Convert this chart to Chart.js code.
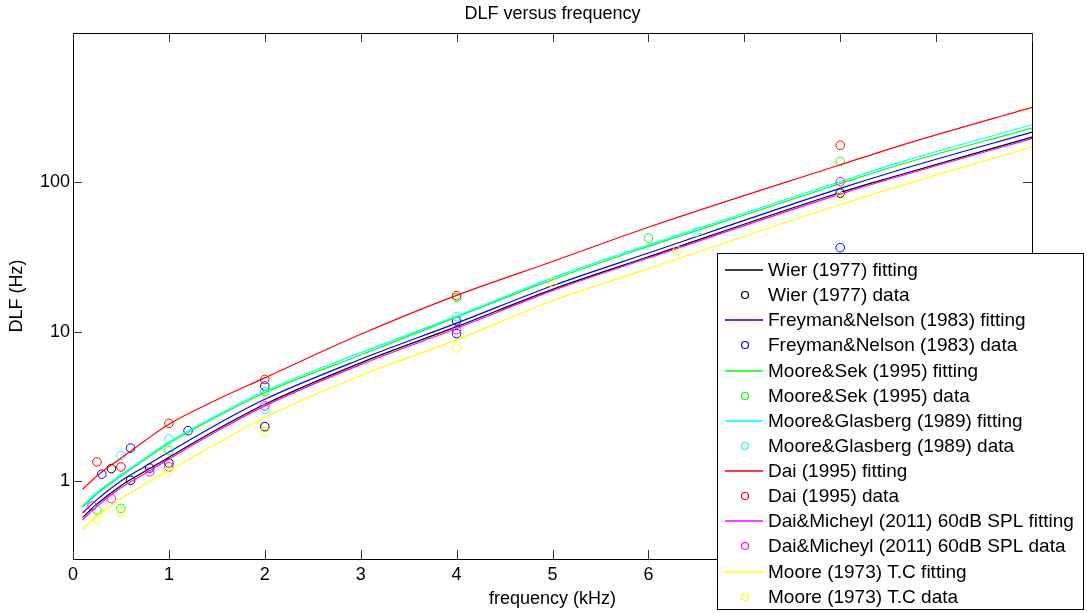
<!DOCTYPE html>
<html>
<head>
<meta charset="utf-8">
<script src="https://cdn.jsdelivr.net/npm/chart.js@4.4.0/dist/chart.umd.min.js"></script>
<style>
  html, body { margin: 0; padding: 0; background: #fff; }
  #dlfChart { display: block; }
</style>
</head>
<body>
<canvas id="dlfChart" width="1087" height="613"></canvas>
<script>
const fitFreq = [0.1, 0.25, 0.5, 0.75, 1, 1.5, 2, 3, 4, 5, 6, 8, 8.6, 10];

// fitted curves, DLF in Hz
const wierFit     = [0.57, 0.70, 0.93, 1.16, 1.44, 2.21, 3.26, 6.18, 10.8, 19.2, 31.7, 85.5, 111, 201];
const freymanFit  = [0.61, 0.75, 1.0, 1.25, 1.56, 2.39, 3.52, 6.53, 11.4, 20.3, 33.6, 91, 120, 217];
const sekFit      = [0.665, 0.82, 1.075, 1.39, 1.78, 2.69, 3.9, 6.98, 12.5, 22.3, 37.2, 98, 130, 231];
const glasbergFit = [0.68, 0.84, 1.10, 1.42, 1.82, 2.75, 4.0, 7.23, 12.7, 22.9, 38.1, 101, 135, 243];
const daiFit      = [0.88, 1.08, 1.42, 1.86, 2.4, 3.5, 4.9, 9.6, 17.5, 29.5, 50, 131, 174, 318];
const micheylFit  = [0.55, 0.675, 0.90, 1.12, 1.40, 2.15, 3.18, 6.01, 10.5, 18.8, 31.1, 83.3, 109, 196];
const moore73Fit  = [0.475, 0.58, 0.76, 0.95, 1.17, 1.78, 2.66, 5.08, 8.8, 16.1, 26.4, 71, 93.6, 173];

// measured data points
const wierFreq = [0.4, 0.6, 0.8, 1, 2, 4, 8];
const wierData = [1.21, 1.01, 1.22, 1.32, 2.31, 11.8, 84.6];
const freymanFreq = [0.3, 0.6, 1.2, 2, 4, 8];
const freymanData = [1.11, 1.66, 2.17, 4.32, 9.7, 36.5];
const sekFreq = [0.25, 0.5, 1, 2, 4, 6, 8];
const sekData = [0.64, 0.655, 1.6, 3.96, 16.9, 42.4, 138];
const glasbergFreq = [0.5, 1, 2, 4, 6.5];
const glasbergData = [1.48, 1.91, 3.02, 12.6, 46.5];
const daiFreq = [0.25, 0.5, 1, 2, 4, 8];
const daiData = [1.34, 1.24, 2.43, 4.78, 17.4, 177];
const micheylFreq = [0.2, 0.4, 0.8, 1, 2, 4, 8];
const micheylData = [0.68, 0.76, 1.15, 1.24, 3.18, 10.3, 101];
const moore73Freq = [0.25, 0.5, 1, 2, 4, 5, 6.3, 8];
const moore73Data = [0.55, 0.61, 1.17, 2.14, 7.77, 21.3, 34.9, 80.3];

// axis ticks
const xTicks = [0, 1, 2, 3, 4, 5, 6, 7, 8, 9, 10];
const yTicks = [1, 10, 100];

const FONT = "'Liberation Sans', Arial, Helvetica, sans-serif";

function pairs(xs, ys) {
  return xs.map((x, i) => ({ x: x, y: ys[i] }));
}

function fitSet(label, ys, color) {
  return {
    label: label,
    data: pairs(fitFreq, ys),
    borderColor: color,
    borderWidth: 1.2,
    pointRadius: 0,
    showLine: true,
    fill: false,
    cubicInterpolationMode: 'monotone'
  };
}

function dataSet(label, xs, ys, color) {
  return {
    label: label,
    data: pairs(xs, ys),
    borderColor: color,
    showLine: false,
    pointStyle: 'circle',
    pointRadius: 4.3,
    pointBorderWidth: 1,
    pointBorderColor: color,
    pointBackgroundColor: 'rgba(0,0,0,0)'
  };
}

// axes box with inward ticks + legend box drawn on top
const boxAndLegend = {
  id: 'boxAndLegend',
  afterDraw(chart) {
    const c = chart.ctx;
    const a = chart.chartArea;
    const xs = chart.scales.x, ys = chart.scales.y;
    const tl = 9;

    c.save();
    c.strokeStyle = '#000';
    c.lineWidth = 1;
    c.strokeRect(a.left + 0.5, a.top + 0.5, a.right - a.left, a.bottom - a.top);

    c.strokeStyle = '#333';
    c.beginPath();
    xTicks.forEach(v => {
      const px = Math.round(xs.getPixelForValue(v)) + 0.5;
      c.moveTo(px, a.bottom); c.lineTo(px, a.bottom - tl);
      c.moveTo(px, a.top); c.lineTo(px, a.top + tl);
    });
    yTicks.forEach(v => {
      const py = Math.round(ys.getPixelForValue(v)) + 0.5;
      c.moveTo(a.left, py); c.lineTo(a.left + tl, py);
      c.moveTo(a.right, py); c.lineTo(a.right - tl, py);
    });
    c.stroke();

    // legend
    const lx = 717, ly = 253, lw = 366, lh = 356;
    c.fillStyle = '#fff';
    c.fillRect(lx, ly, lw, lh);
    c.strokeStyle = '#000';
    c.lineWidth = 1;
    c.strokeRect(lx + 0.5, ly + 0.5, lw, lh);

    c.font = '19px ' + FONT;
    c.textBaseline = 'middle';
    c.textAlign = 'left';
    chart.data.datasets.forEach((ds, i) => {
      const cy = Math.round(270 + i * 25.13);
      c.strokeStyle = ds.borderColor;
      c.beginPath();
      if (ds.showLine === false) {
        c.lineWidth = 1.2;
        c.arc(745, cy, 3.5, 0, Math.PI * 2);
      } else {
        c.lineWidth = 1.6;
        c.moveTo(725, cy); c.lineTo(763, cy);
      }
      c.stroke();
      c.fillStyle = '#000';
      c.fillText(ds.label, 768, cy + 1);
    });
    c.restore();
  }
};

document.addEventListener('DOMContentLoaded', function () {
  const ctx = document.getElementById('dlfChart');

  const datasets = [
    fitSet('Wier (1977) fitting', wierFit, '#000000'),
    dataSet('Wier (1977) data', wierFreq, wierData, '#000000'),
    fitSet('Freyman&Nelson (1983) fitting', freymanFit, '#0000ff'),
    dataSet('Freyman&Nelson (1983) data', freymanFreq, freymanData, '#0000ff'),
    fitSet('Moore&Sek (1995) fitting', sekFit, '#00ff00'),
    dataSet('Moore&Sek (1995) data', sekFreq, sekData, '#00ff00'),
    fitSet('Moore&Glasberg (1989) fitting', glasbergFit, '#00ffff'),
    dataSet('Moore&Glasberg (1989) data', glasbergFreq, glasbergData, '#00ffff'),
    fitSet('Dai (1995) fitting', daiFit, '#ff0000'),
    dataSet('Dai (1995) data', daiFreq, daiData, '#ff0000'),
    fitSet('Dai&Micheyl (2011) 60dB SPL fitting', micheylFit, '#ff00ff'),
    dataSet('Dai&Micheyl (2011) 60dB SPL data', micheylFreq, micheylData, '#ff00ff'),
    fitSet('Moore (1973) T.C fitting', moore73Fit, '#ffff00'),
    dataSet('Moore (1973) T.C data', moore73Freq, moore73Data, '#ffff00')
  ];
  // later series on top, like the original plot
  datasets.forEach((ds, i) => { ds.order = 20 - i; });

  new Chart(ctx, {
    type: 'scatter',
    data: { datasets: datasets },
    options: {
      responsive: false,
      animation: false,
      devicePixelRatio: 1,
      layout: { padding: { left: 0, right: 55, top: 0, bottom: 0 } },
      plugins: {
        legend: { display: false },
        tooltip: { enabled: false },
        title: {
          display: true,
          text: 'DLF versus frequency',
          color: '#000',
          fullSize: false,
          font: { family: FONT, size: 18, weight: 'normal' },
          padding: { top: 3, bottom: 8.4 }
        }
      },
      scales: {
        x: {
          type: 'linear',
          min: 0,
          max: 10,
          afterFit: s => { s.height = 54; },
          afterBuildTicks: s => { s.ticks = xTicks.map(v => ({ value: v })); },
          grid: { display: false, drawTicks: false },
          border: { display: false },
          ticks: { color: '#000', font: { family: FONT, size: 18 }, padding: 5, maxRotation: 0, autoSkip: false },
          title: { display: true, text: 'frequency (kHz)', color: '#000', font: { family: FONT, size: 18 }, padding: { top: 0, bottom: 3 } }
        },
        y: {
          type: 'logarithmic',
          min: 0.3162,
          max: 1000,
          afterFit: s => { s.width = 73; },
          afterBuildTicks: s => { s.ticks = yTicks.map(v => ({ value: v })); },
          grid: { display: false, drawTicks: false },
          border: { display: false },
          ticks: { color: '#000', font: { family: FONT, size: 18 }, padding: 3, callback: v => String(v) },
          title: { display: true, text: 'DLF (Hz)', color: '#000', font: { family: FONT, size: 18 }, padding: { top: 6, bottom: 0 } }
        }
      }
    },
    plugins: [boxAndLegend]
  });
});
</script>
</body>
</html>
